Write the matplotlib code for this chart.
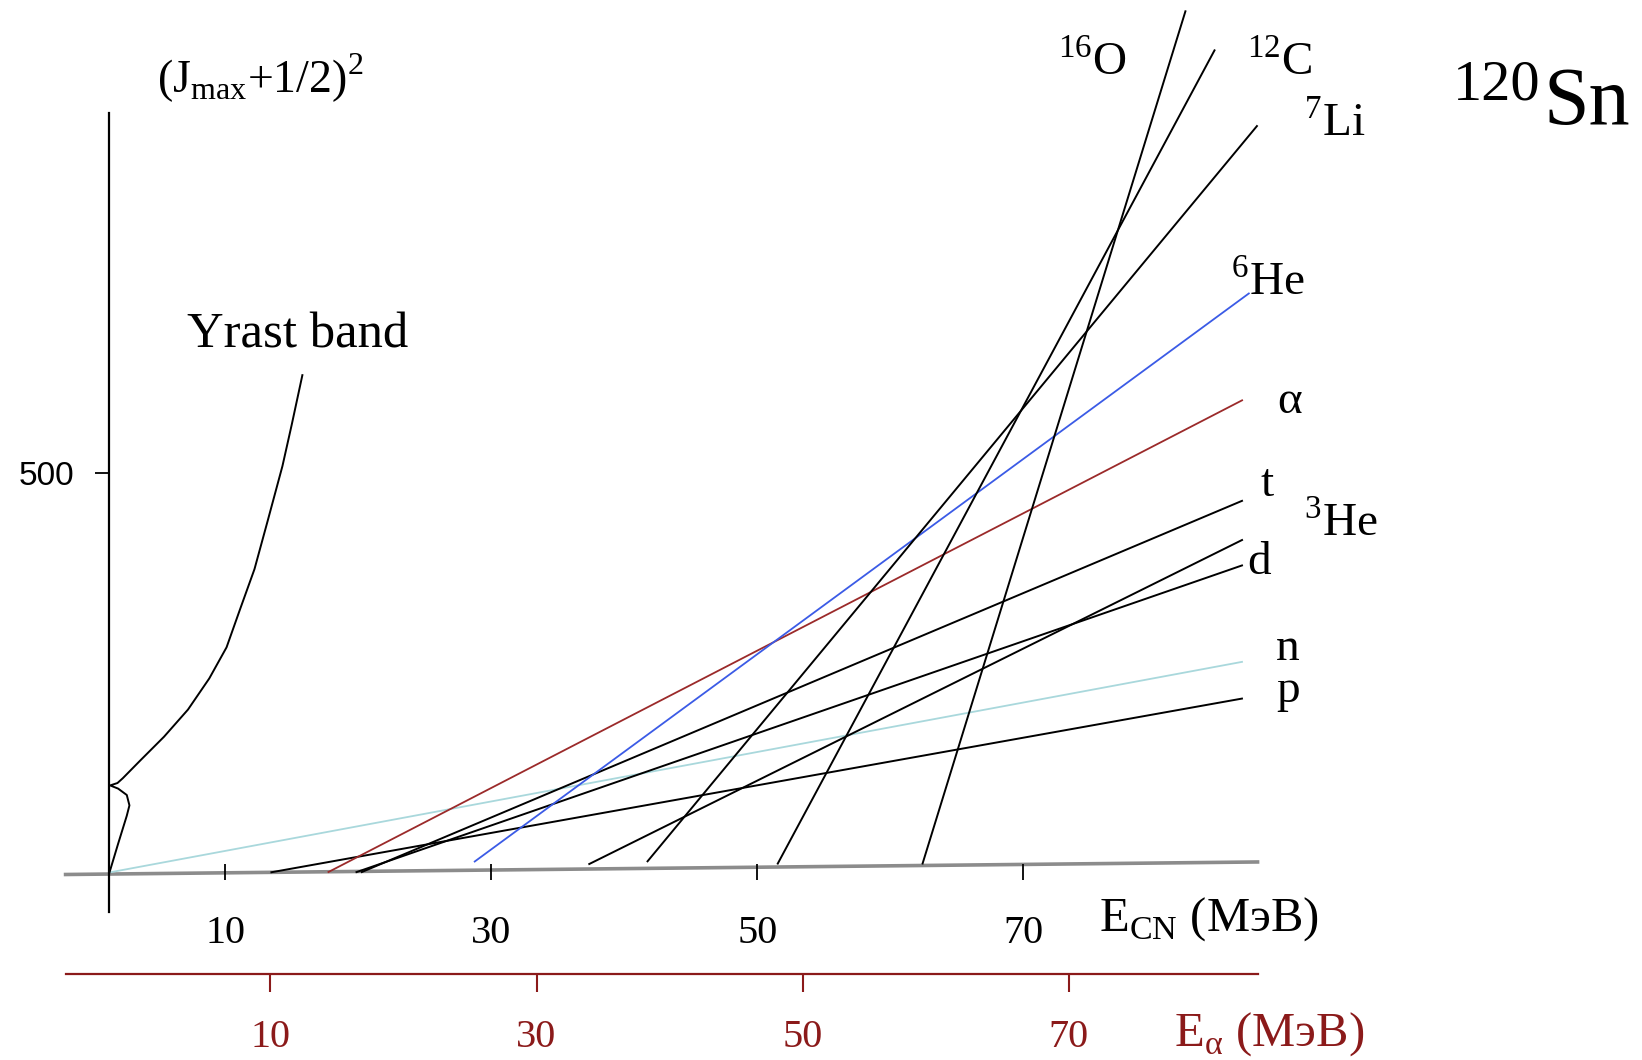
import matplotlib
matplotlib.use('Agg')
import matplotlib.pyplot as plt

plt.rcParams['font.family'] = ['Liberation Serif', 'DejaVu Serif']
plt.rcParams['mathtext.fontset'] = 'custom'
plt.rcParams['mathtext.rm'] = 'Liberation Serif'

# E_CN (MeV) and (J_max+1/2)^2
# particle lines: start / end points
particles = ['n', 'p', 'd', '3He', 't', 'alpha', '6He', '7Li', '12C', '16O']
e_start = [1.3, 13.4, 19.8, 37.3, 20.2, 17.7, 28.7, 41.7, 51.5, 62.4]
e_end = [86.5, 86.5, 86.5, 86.5, 86.5, 86.5, 87.0, 87.6, 84.4, 82.2]
j_start = [0, 0, 0, 10, 0, 0, 13, 13, 10, 10]
j_end = [264, 218, 385, 417, 466, 592, 726, 936, 1031, 1080]
line_colors = ['#a9d8dc', 'black', 'black', 'black', 'black', '#9b2a2a',
               '#3b5be6', 'black', 'black', 'black']

# yrast band curve
yrast_e = [1.3, 1.95, 2.6, 2.8, 2.6, 1.95, 1.35, 1.9, 2.3, 3.6, 5.4, 7.2,
           8.8, 10.1, 11.1, 12.2, 13.2, 14.3, 15.0, 15.8]
yrast_j = [0, 36, 71, 84, 97, 105, 109, 112, 118, 140, 170, 204,
           243, 282, 329, 380, 441, 509, 561, 623]

# slightly tilted E_CN baseline
base_e = [-2.0, 87.6]
base_j = [-2.6, 13.1]

ecn_ticks = [10, 30, 50, 70]
ealpha_ticks = [10, 30, 50, 70]
j_ticks = [500]
q_shift = 3.4  # E_CN = E_alpha + q_shift

dark_red = '#8b1a1a'

fig = plt.figure(figsize=(16.42, 10.6), dpi=100)
ax = fig.add_axes([0, 0, 1, 1])
ax.set_xlim(-6.93, 116.5)
ax.set_ylim(-235, 1093)

for i in range(len(particles)):
    lw = 1.4 if line_colors[i] == 'black' else 1.3
    ax.plot([e_start[i], e_end[i]], [j_start[i], j_end[i]],
            color=line_colors[i], lw=lw, solid_capstyle='butt')

ax.plot(yrast_e, yrast_j, color='black', lw=1.4)
ax.plot(base_e, base_j, color='#8c8c8c', lw=2.6, zorder=1)

# axes: y on the left spine, E_CN ticks on the baseline
for s in ['top', 'right']:
    ax.spines[s].set_visible(False)
ax.spines['left'].set_position(('data', 1.3))
ax.spines['left'].set_bounds(-49, 951)
ax.spines['left'].set_linewidth(1.6)
ax.spines['bottom'].set_position(('data', 0))
ax.spines['bottom'].set_visible(False)

ax.set_yticks(j_ticks)
ax.set_yticklabels([str(v) for v in j_ticks], family='Liberation Sans')
ax.tick_params(axis='y', direction='out', length=10, width=1.3, pad=15, labelsize=24)
ax.set_xticks(ecn_ticks)
ax.set_xticklabels([str(v) for v in ecn_ticks])
ax.tick_params(axis='x', direction='inout', length=11, width=1.3, pad=25, labelsize=29)

# E_alpha axis underneath
sec = ax.secondary_xaxis(0.081, functions=(lambda c: c - q_shift, lambda a: a + q_shift))
sec.set_xticks(ealpha_ticks)
sec.set_xticklabels([str(v) for v in ealpha_ticks])
sec.spines['bottom'].set_color(dark_red)
sec.spines['bottom'].set_linewidth(1.6)
sec.spines['bottom'].set_bounds(-5.4, 84.2)
sec.tick_params(axis='x', direction='out', length=13, width=1.5, pad=19,
                labelsize=29, colors=dark_red)

# labels
ax.text(4.9, 995, r'(J$_{\mathregular{max}}$+1/2)$^{\mathregular{2}}$', fontsize=33,
        ha='left', va='center')
ax.text(7.1, 673, 'Yrast band', fontsize=36.5, ha='left', va='center')
ax.text(75.7, -59, r'E$_{\mathregular{CN}}$ (МэВ)', fontsize=35, ha='left', va='center')
ax.text(81.3, -202, r'E$_{\mathregular{α}}$ (МэВ)', fontsize=35, ha='left', va='center',
        color=dark_red)

ax.text(72.6, 1014, r'$^{\mathregular{16}}$O', fontsize=34, ha='left', va='center')
ax.text(86.8, 1014, r'$^{\mathregular{12}}$C', fontsize=34, ha='left', va='center')
ax.text(91.1, 938, r'$^{\mathregular{7}}$Li', fontsize=34, ha='left', va='center')
ax.text(85.6, 739, r'$^{\mathregular{6}}$He', fontsize=34, ha='left', va='center')
ax.text(89.1, 590, 'α', fontsize=34, ha='left', va='center')
ax.text(87.8, 486, 't', fontsize=34, ha='left', va='center')
ax.text(91.1, 437, r'$^{\mathregular{3}}$He', fontsize=34, ha='left', va='center')
ax.text(86.8, 388, 'd', fontsize=34, ha='left', va='center')
ax.text(89.0, 280, 'n', fontsize=34, ha='left', va='center')
ax.text(89.0, 227, 'p', fontsize=34, ha='left', va='center')

ax.text(108.9, 968, '120', fontsize=42, ha='right', va='baseline')
ax.text(109.1, 938, 'Sn', fontsize=59, ha='left', va='baseline')

fig.savefig('out.png', dpi=100)
